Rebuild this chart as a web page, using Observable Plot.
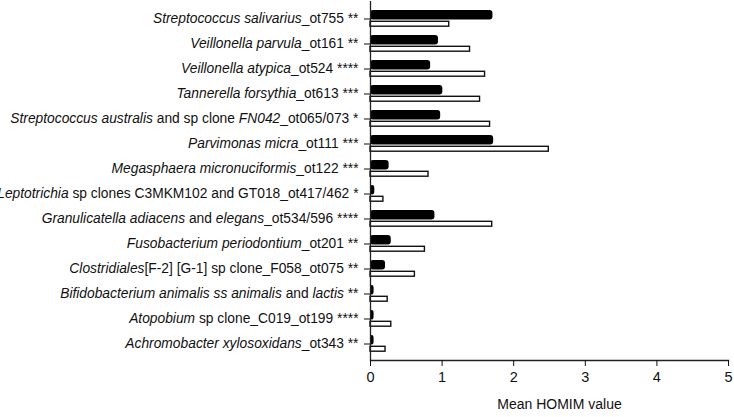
<!DOCTYPE html>
<html>
<head>
<meta charset="utf-8">
<script src="https://cdn.jsdelivr.net/npm/d3@7"></script>
<script src="https://cdn.jsdelivr.net/npm/@observablehq/plot@0.6"></script>
<style>
  html, body { margin: 0; padding: 0; background: #fff; }
  svg text { white-space: pre; }
</style>
</head>
<body>
<div id="chart"></div>
<script>
// Category labels (top to bottom)
const labels = [
  "Streptococcus salivarius_ot755 **",
  "Veillonella parvula_ot161 **",
  "Veillonella atypica_ot524 ****",
  "Tannerella forsythia_ot613 ***",
  "Streptococcus australis and sp clone FN042_ot065/073 *",
  "Parvimonas micra_ot111 ***",
  "Megasphaera micronuciformis_ot122 ***",
  "Leptotrichia sp clones C3MKM102 and GT018_ot417/462 *",
  "Granulicatella adiacens and elegans_ot534/596 ****",
  "Fusobacterium periodontium_ot201 **",
  "Clostridiales[F-2] [G-1] sp clone_F058_ot075 **",
  "Bifidobacterium animalis ss animalis and lactis **",
  "Atopobium sp clone_C019_ot199 ****",
  "Achromobacter xylosoxidans_ot343 **"
];
// Italic (taxon-name) parts of each label
const italicTerms = [
  ["Streptococcus salivarius"],
  ["Veillonella parvula"],
  ["Veillonella atypica"],
  ["Tannerella forsythia"],
  ["Streptococcus australis", "FN042"],
  ["Parvimonas micra"],
  ["Megasphaera micronuciformis"],
  ["Leptotrichia"],
  ["Granulicatella adiacens", "elegans"],
  ["Fusobacterium periodontium"],
  ["Clostridiales"],
  ["Bifidobacterium animalis ss animalis", "lactis"],
  ["Atopobium"],
  ["Achromobacter xylosoxidans"]
];
// Series values (mean HOMIM value)
const seriesFilled = [1.71, 0.95, 0.84, 1.01, 0.98, 1.72, 0.26, 0.06, 0.90, 0.29, 0.21, 0.05, 0.05, 0.05];
const seriesOpen   = [1.10, 1.39, 1.60, 1.53, 1.67, 2.49, 0.81, 0.18, 1.70, 0.76, 0.62, 0.24, 0.29, 0.21];
const xTicks = [0, 1, 2, 3, 4, 5];
const xLabel = "Mean HOMIM value";

const filledData = labels.map((l, i) => ({label: l, value: seriesFilled[i]}));
const openData = labels.map((l, i) => ({label: l, value: seriesOpen[i]}));

const chart = Plot.plot({
  width: 734,
  height: 417,
  marginLeft: 370,
  marginRight: 6,
  marginTop: 1,
  marginBottom: 57,
  style: {fontFamily: "'Liberation Sans', Arial, Helvetica, sans-serif", fontSize: "13.8px", color: "#111", background: "#fff"},
  x: {domain: [0, 5], ticks: xTicks, label: null},
  y: {domain: labels, padding: 0, label: null},
  marks: [
    Plot.barX(filledData, {x: "value", y: "label", fill: "#000", rx: 3, insetTop: 4, insetBottom: 11.6}),
    Plot.barX(openData, {x: "value", y: "label", fill: "#fff", stroke: "#111", strokeWidth: 1.4, insetTop: 15.3, insetBottom: 4.8}),
    Plot.ruleX([0], {stroke: "#222", strokeWidth: 1.3}),
    Plot.frame({anchor: "bottom", stroke: "#222", strokeWidth: 1.3}),
    Plot.axisY({tickSize: 6, tickPadding: 6, label: null, fontSize: 13.8}),
    Plot.axisX({ticks: xTicks, tickFormat: d3.format("d"), tickSize: 6, tickPadding: 5, label: null, fontSize: 14.5}),
    Plot.text([xLabel], {frameAnchor: "bottom", dx: 10, dy: 48, fontSize: 14})
  ]
});

document.getElementById("chart").appendChild(chart);

// Render taxon names in italics
d3.select(chart).selectAll('g[aria-label="y-axis tick label"] text').each(function() {
  const t = this.textContent;
  const i = labels.indexOf(t);
  if (i < 0) return;
  const terms = italicTerms[i];
  const segs = [];
  let rest = t;
  while (rest.length) {
    let best = -1, term = null;
    for (const it of terms) {
      const p = rest.indexOf(it);
      if (p >= 0 && (best < 0 || p < best)) { best = p; term = it; }
    }
    if (best < 0) { segs.push([rest, false]); break; }
    if (best > 0) segs.push([rest.slice(0, best), false]);
    segs.push([term, true]);
    rest = rest.slice(best + term.length);
  }
  const sel = d3.select(this);
  sel.text(null);
  for (const [s, it] of segs) {
    sel.append("tspan").attr("font-style", it ? "italic" : null).text(s);
  }
});
</script>
</body>
</html>
